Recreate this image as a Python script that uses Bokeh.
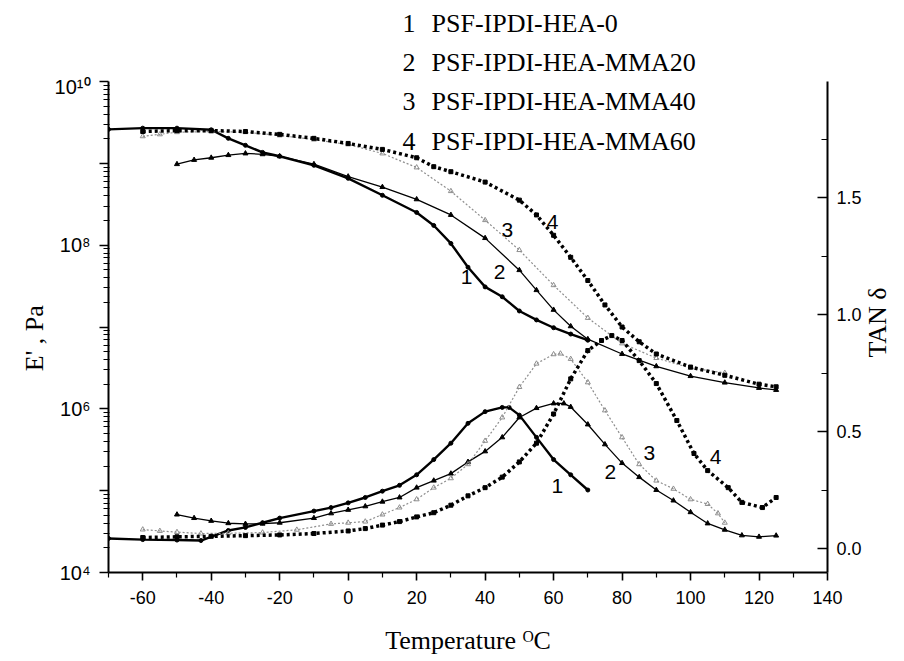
import math
from bokeh.plotting import figure
from bokeh.layouts import column
from bokeh.models import (Range1d, LinearAxis, LogAxis, LinearScale, FixedTicker,
                          CustomJSTickFormatter, PrintfTickFormatter, Label)
from bokeh.core.properties import value
from bokeh.embed import file_html
from bokeh.resources import INLINE

# ---------------- data ----------------
# Storage modulus E' (Pa)
t_e1 = [-70, -60, -50, -40, -35, -30, -25, -20, -10, 0, 10, 20, 25, 30, 35, 40, 45, 50, 55, 60, 65, 70]
e1 = [2.6e9, 2.69e9, 2.69e9, 2.57e9, 2.02e9, 1.66e9, 1.36e9, 1.22e9, 9.46e8, 6.56e8, 4.07e8, 2.51e8,
      1.74e8, 1.05e8, 5.37e7, 3.09e7, 2.34e7, 1.57e7, 1.22e7, 9.8e6, 8.2e6, 6.9e6]

t_e2 = [-50, -45, -40, -35, -30, -25, -20, -10, 0, 10, 20, 30, 40, 50, 55, 60, 65, 70, 80, 90, 100, 110, 120, 125]
e2 = [9.77e8, 1.1e9, 1.17e9, 1.26e9, 1.32e9, 1.29e9, 1.22e9, 9.77e8, 6.9e8, 5.13e8, 3.63e8, 2.34e8,
      1.22e8, 4.95e7, 2.82e7, 1.62e7, 1.02e7, 7.1e6, 4.68e6, 3.31e6, 2.51e6, 2.09e6, 1.8e6, 1.7e6]

t_e3 = [-60, -55, -50, -40, -30, -20, -10, 0, 10, 20, 30, 40, 50, 60, 70, 80, 90, 100, 110]
e3 = [2.14e9, 2.26e9, 2.4e9, 2.45e9, 2.4e9, 2.19e9, 1.95e9, 1.7e9, 1.32e9, 8.9e8, 4.57e8, 2.02e8,
      8.7e7, 3.24e7, 1.29e7, 6.3e6, 4.17e6, 3.16e6, 2.75e6]

t_e4 = [-60, -50, -40, -30, -20, -10, 0, 10, 20, 25, 30, 40, 50, 55, 60, 65, 70, 75, 80, 85, 90, 100, 110, 120, 125]
e4 = [2.45e9, 2.51e9, 2.51e9, 2.45e9, 2.26e9, 2.02e9, 1.75e9, 1.48e9, 1.17e9, 9.1e8, 7.9e8, 5.9e8,
      3.55e8, 2.34e8, 1.32e8, 7.1e7, 3.7e7, 1.86e7, 1.0e7, 6.6e6, 4.68e6, 3.24e6, 2.57e6, 2.0e6, 1.86e6]

# Loss factor TAN delta
t_d1 = [-70, -60, -50, -43, -35, -30, -25, -20, -10, -5, 0, 5, 10, 15, 20, 25, 30, 35, 40, 45, 47,
        50, 55, 60, 65, 70]
d1 = [0.043, 0.038, 0.036, 0.034, 0.077, 0.09, 0.11, 0.13, 0.16, 0.175, 0.195, 0.218, 0.245, 0.27,
      0.315, 0.38, 0.45, 0.535, 0.585, 0.603, 0.603, 0.57, 0.475, 0.38, 0.315, 0.25]

t_d2 = [-50, -45, -40, -35, -30, -25, -20, -10, -5, 0, 5, 10, 15, 20, 25, 30, 35, 40, 45, 50, 55, 60,
        63, 65, 70, 75, 80, 85, 90, 95, 100, 105, 110, 115, 120, 125]
d2 = [0.145, 0.13, 0.118, 0.108, 0.105, 0.106, 0.11, 0.13, 0.15, 0.165, 0.18, 0.2, 0.218, 0.26,
      0.29, 0.32, 0.37, 0.415, 0.475, 0.56, 0.60, 0.62, 0.62, 0.605, 0.53, 0.445, 0.365, 0.305,
      0.25, 0.205, 0.155, 0.107, 0.08, 0.056, 0.05, 0.055]

t_d3 = [-60, -55, -50, -43, -35, -25, -15, -5, 0, 5, 10, 15, 20, 25, 30, 35, 40, 45, 50, 55, 60, 62,
        65, 70, 75, 80, 85, 90, 95, 100, 105, 108, 110]
d3 = [0.081, 0.075, 0.07, 0.064, 0.065, 0.068, 0.08, 0.105, 0.11, 0.115, 0.145, 0.175, 0.21, 0.26,
      0.30, 0.36, 0.46, 0.56, 0.69, 0.79, 0.83, 0.833, 0.81, 0.71, 0.59, 0.475, 0.36, 0.29, 0.255,
      0.21, 0.19, 0.15, 0.11]

t_d4 = [-60, -50, -40, -30, -20, -10, 0, 5, 10, 15, 20, 25, 30, 35, 40, 45, 50, 55, 60, 65, 70, 74,
        77, 80, 85, 90, 96, 101, 105, 111, 115, 121, 125]
d4 = [0.047, 0.05, 0.052, 0.055, 0.058, 0.064, 0.075, 0.085, 0.1, 0.115, 0.135, 0.153, 0.185, 0.225,
      0.26, 0.305, 0.37, 0.45, 0.575, 0.725, 0.846, 0.889, 0.91, 0.889, 0.803, 0.705, 0.547, 0.406,
      0.333, 0.26, 0.197, 0.175, 0.218]

x_ticks = [-60, -40, -20, 0, 20, 40, 60, 80, 100, 120, 140]
x_minor = [-70, -50, -30, -10, 10, 30, 50, 70, 90, 110, 130]
y_ticks = [1e4, 1e5, 1e6, 1e7, 1e8, 1e9, 1e10]
y_tick_labels = ["10\u2074", "", "10\u2076", "", "10\u2078", "", "10\u00b9\u2070"]
y_minor = [m * 10.0 ** k for k in range(4, 10) for m in range(2, 10)]
tan_ticks = [0.0, 0.5, 1.0, 1.5, 2.0]
tan_minor = [0.25, 0.75, 1.25, 1.75]

legend_nums = ["1", "2", "3", "4"]
legend_names = ["PSF-IPDI-HEA-0", "PSF-IPDI-HEA-MMA20", "PSF-IPDI-HEA-MMA40", "PSF-IPDI-HEA-MMA60"]
curve_tags = ["1", "2", "3", "4"]
left_title = "E' , Pa"
right_title = "TAN \u03b4"
bottom_title = "Temperature \u1d3cC"

SANS = "Liberation Sans"
SERIF = "Liberation Serif"
GRAY = "#8e8e8e"

TOP_H = 75          # height of the strip above the main plot (window px)
FRAME_LEFT = 108
FRAME_TOP = 81
FRAME_W = 719
FRAME_H = 491

# legend row positions (window px): x of number, x of name, vertical centre of each row
leg_x_num = 402
leg_x_name = 431
leg_mid = [23, 61.5, 101, 141]

# ---------------- legend strip above the plot ----------------
top = figure(frame_width=FRAME_W, frame_height=TOP_H,
             x_range=Range1d(FRAME_LEFT, FRAME_LEFT + FRAME_W), y_range=Range1d(TOP_H, 0),
             output_backend="svg", toolbar_location=None,
             min_border_left=FRAME_LEFT, min_border_right=0, min_border_top=0, min_border_bottom=0,
             x_axis_location=None, y_axis_location=None)
top.outline_line_color = None
top.xgrid.visible = False
top.ygrid.visible = False
top.title.visible = False
top.text(x=[leg_x_num] * 2, y=leg_mid[:2], text=legend_nums[:2], text_font=value(SERIF),
         text_font_size="26px", text_color="black", text_baseline="middle")
top.text(x=[leg_x_name] * 2, y=leg_mid[:2], text=legend_names[:2], text_font=value(SERIF),
         text_font_size="26px", text_color="black", text_baseline="middle")

# ---------------- main plot ----------------
p = figure(frame_width=FRAME_W, frame_height=FRAME_H,
           x_range=Range1d(-70, 140), y_range=Range1d(1e4, 1e10), y_axis_type="log",
           output_backend="svg", toolbar_location=None,
           min_border_left=FRAME_LEFT, min_border_top=FRAME_TOP - TOP_H,
           min_border_right=0, min_border_bottom=0)
p.outline_line_color = None
p.xgrid.visible = False
p.ygrid.visible = False
p.title.visible = False

p.extra_y_ranges = {"tan": Range1d(-0.1026, 1.996)}
p.extra_y_scales = {"tan": LinearScale()}

# E' curves
p.line(t_e1, e1, line_color="black", line_width=2.4)
p.scatter(t_e1, e1, marker="circle", size=4, color="black")
p.line(t_e2, e2, line_color="black", line_width=1.3)
p.scatter(t_e2, e2, marker="triangle", size=5, color="black")
p.line(t_e3, e3, line_color=GRAY, line_width=1.2, line_dash="2 2")
p.scatter(t_e3, e3, marker="triangle", size=5, fill_color=None, line_color=GRAY)
p.line(t_e4, e4, line_color="black", line_width=3.5, line_dash="3 3")
p.scatter(t_e4, e4, marker="square", size=4, color="black")

# TAN delta curves
p.line(t_d1, d1, line_color="black", line_width=2.4, y_range_name="tan")
p.scatter(t_d1, d1, marker="circle", size=4, color="black", y_range_name="tan")
p.line(t_d2, d2, line_color="black", line_width=1.3, y_range_name="tan")
p.scatter(t_d2, d2, marker="triangle", size=5, color="black", y_range_name="tan")
p.line(t_d3, d3, line_color=GRAY, line_width=1.2, line_dash="2 2", y_range_name="tan")
p.scatter(t_d3, d3, marker="triangle", size=5, fill_color=None, line_color=GRAY, y_range_name="tan")
p.line(t_d4, d4, line_color="black", line_width=3.5, line_dash="3 3", y_range_name="tan")
p.scatter(t_d4, d4, marker="square", size=4, color="black", y_range_name="tan")

# ---------------- axes ----------------
def style_axis(ax):
    ax.axis_line_width = 2
    ax.axis_line_color = "black"
    ax.major_tick_line_width = 1.6
    ax.minor_tick_line_width = 1.2
    ax.major_label_text_font = SANS
    ax.major_label_text_font_size = "18px"
    ax.major_label_text_color = "black"
    ax.axis_label_text_font = SERIF
    ax.axis_label_text_font_style = "normal"
    ax.axis_label_text_font_size = "26px"
    ax.axis_label_text_color = "black"


def title_axis(ax, lab, standoff):
    """An axis with no line or ticks whose single tick label serves as a rotated title."""
    ax.formatter = CustomJSTickFormatter(args=dict(lab=lab), code="return lab;")
    ax.axis_line_color = None
    ax.major_tick_line_color = None
    ax.minor_tick_line_color = None
    ax.major_tick_in = 0
    ax.major_tick_out = 0
    ax.minor_tick_in = 0
    ax.minor_tick_out = 0
    ax.major_label_orientation = math.pi / 2
    ax.major_label_standoff = standoff
    ax.major_label_text_font = SERIF
    ax.major_label_text_font_style = "normal"
    ax.major_label_text_font_size = "26px"
    ax.major_label_text_color = "black"


xa = p.xaxis[0]
style_axis(xa)
xa.ticker = FixedTicker(ticks=x_ticks, minor_ticks=x_minor)
xa.formatter = PrintfTickFormatter(format="%d")
xa.major_tick_out = 8
xa.major_tick_in = 0
xa.minor_tick_out = 5
xa.minor_tick_in = 0
xa.major_label_standoff = 10
xa.axis_label = bottom_title
xa.axis_label_standoff = 19

ya = p.yaxis[0]
style_axis(ya)
ya.ticker = FixedTicker(ticks=y_ticks, minor_ticks=y_minor)
ya.formatter = CustomJSTickFormatter(args=dict(vals=y_ticks, labs=y_tick_labels), code="""
    for (let i = 0; i < vals.length; i++) {
        if (Math.abs(Math.log10(vals[i]) - Math.log10(tick)) < 1e-6) { return labs[i]; }
    }
    return "";
""")
ya.major_label_text_font_size = "20px"
ya.major_tick_out = 9
ya.major_tick_in = 0
ya.minor_tick_out = 5
ya.minor_tick_in = 1
ya.major_label_standoff = 9

# left title "E' , Pa" (reads bottom-to-top, sits a little below the frame centre)
E_TITLE_TOP = 1.85e7               # E' value level of the title's upper end
lt = LogAxis()
lt.ticker = FixedTicker(ticks=[E_TITLE_TOP], minor_ticks=[])
title_axis(lt, left_title, 17)
p.add_layout(lt, "left")

ra = LinearAxis(y_range_name="tan")
style_axis(ra)
ra.ticker = FixedTicker(ticks=tan_ticks, minor_ticks=tan_minor)
ra.formatter = PrintfTickFormatter(format="%.1f")
ra.major_tick_in = 10
ra.major_tick_out = 0
ra.minor_tick_in = 6
ra.minor_tick_out = 0
ra.major_label_standoff = 9
p.add_layout(ra, "right")

# right-hand title "TAN delta", reading bottom-to-top like the reference
TAN_TITLE_START = 0.816            # where the rotated title starts (tan units)
rt = LinearAxis(y_range_name="tan")
rt.ticker = FixedTicker(ticks=[TAN_TITLE_START], minor_ticks=[])
title_axis(rt, right_title, 13)
p.add_layout(rt, "right")

# legend rows 3 and 4 fall inside the plot frame
for num, name, ym in zip(legend_nums[2:], legend_names[2:], leg_mid[2:]):
    sy = FRAME_TOP + FRAME_H - ym
    p.add_layout(Label(x=leg_x_num - FRAME_LEFT, y=sy, x_units="screen", y_units="screen",
                       text=num, text_font=SERIF, text_font_size="26px", text_color="black",
                       text_baseline="middle"))
    p.add_layout(Label(x=leg_x_name - FRAME_LEFT, y=sy, x_units="screen", y_units="screen",
                       text=name, text_font=SERIF, text_font_size="26px", text_color="black",
                       text_baseline="middle"))

# ---------------- curve number tags ----------------
e_tag_pos = [(34.6, 4.07e7), (44.2, 4.68e7), (46.5, 1.52e8), (59.7, 1.9e8)]
d_tag_pos = [(61.1, 0.269), (76.6, 0.325), (88.0, 0.41), (107.3, 0.389)]
for tag, (tx, ty) in zip(curve_tags, e_tag_pos):
    p.add_layout(Label(x=tx, y=ty, text=tag, text_font=SANS, text_font_size="21px",
                       text_color="black", text_align="center", text_baseline="middle"))
for tag, (tx, ty) in zip(curve_tags, d_tag_pos):
    p.add_layout(Label(x=tx, y=ty, y_range_name="tan", text=tag, text_font=SANS,
                       text_font_size="21px", text_color="black", text_align="center",
                       text_baseline="middle"))

layout = column(top, p, spacing=0)
open("out.html", "w").write(file_html(layout, INLINE))
